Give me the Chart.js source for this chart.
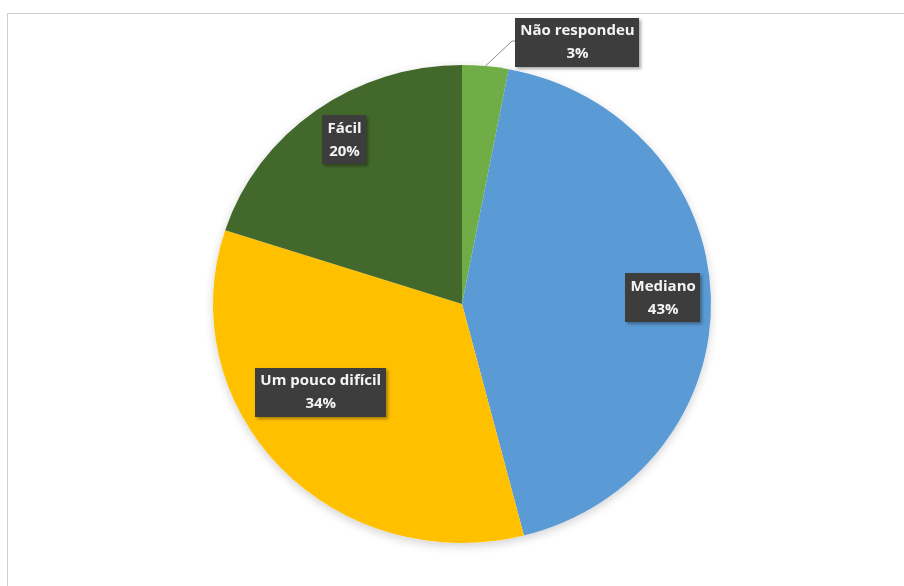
<!DOCTYPE html>
<html>
<head>
<meta charset="utf-8">
<script src="https://cdn.jsdelivr.net/npm/chart.js@4/dist/chart.umd.min.js"></script>
<style>
  html, body { margin: 0; padding: 0; background: #fff; overflow: hidden; }
  #wrap { position: relative; width: 904px; height: 586px; }
  #frame { position: absolute; left: 7px; top: 13px; width: 1000px; height: 1000px; border: 1px solid #cfcfcf; box-sizing: border-box; }
  canvas { position: absolute; left: 0; top: 0; }
</style>
</head>
<body>
<div id="wrap">
  <div id="frame"></div>
  <canvas id="c" width="904" height="586"></canvas>
</div>
<script>
const categories = ["Não respondeu", "Mediano", "Um pouco difícil", "Fácil"];
const values = [3, 43, 34, 20];
const percentLabels = ["3%", "43%", "34%", "20%"];
const sliceColors = ["#70AD47", "#5B9BD5", "#FFC000", "#43682B"];

const SX = 1.042; // horizontal stretch of the reference picture

const labelPlugin = {
  id: 'boxLabels',
  beforeDatasetsDraw(chart) {
    const ctx = chart.ctx;
    const a = chart.getDatasetMeta(0).data[0];
    ctx.save();
    ctx.translate(a.x, 0);
    ctx.scale(SX, 1);
    ctx.translate(-a.x, 0);
    ctx.save();
    ctx.shadowColor = 'rgba(0,0,0,0.18)';
    ctx.shadowBlur = 10;
    ctx.shadowOffsetY = 3;
    ctx.beginPath();
    ctx.arc(a.x, a.y, a.outerRadius, 0, Math.PI * 2);
    ctx.fillStyle = '#fff';
    ctx.fill();
    ctx.restore();
  },
  afterDatasetsDraw(chart) {
    const ctx = chart.ctx;
    ctx.restore();
    const meta = chart.getDatasetMeta(0);
    ctx.save();
    ctx.font = 'bold 15px "Open Sans", sans-serif';
    ctx.textAlign = 'center';
    ctx.textBaseline = 'middle';
    meta.data.forEach((arc, i) => {
      const mid = (arc.startAngle + arc.endAngle) / 2;
      const R = arc.outerRadius;
      let cx, cy;
      let leader = null;
      if (i === 0) {
        const ex = arc.x + Math.cos(mid) * R * SX, ey = arc.y + Math.sin(mid) * R;
        cx = ex + 92; cy = ey - 24;
        leader = [ex, ey];
      } else if (i === 2) {
        cx = arc.x + Math.cos(mid + 0.19) * R * 0.69 * SX + 4;
        cy = arc.y + Math.sin(mid + 0.19) * R * 0.69;
      } else if (i === 3) {
        cx = arc.x + Math.cos(mid) * R * 0.83 * SX + 4;
        cy = arc.y + Math.sin(mid) * R * 0.83 - 4;
      } else {
        cx = arc.x + Math.cos(mid) * R * 0.80 * SX + 2;
        cy = arc.y + Math.sin(mid) * R * 0.80;
      }
      const l1 = categories[i], l2 = percentLabels[i];
      const w = Math.max(ctx.measureText(l1).width, ctx.measureText(l2).width) + 10;
      const h = 49;
      const bx = Math.round(cx - w / 2), by = Math.round(cy - h / 2);
      if (leader) {
        ctx.beginPath();
        ctx.moveTo(leader[0], leader[1]);
        ctx.lineTo(bx - 3, cy - 1);
        ctx.lineTo(bx, cy - 1);
        ctx.strokeStyle = '#8c8c8c';
        ctx.lineWidth = 1;
        ctx.stroke();
      }
      ctx.save();
      ctx.shadowColor = 'rgba(0,0,0,0.35)';
      ctx.shadowBlur = 3;
      ctx.shadowOffsetX = 2;
      ctx.shadowOffsetY = 2;
      ctx.fillStyle = '#3d3d3d';
      ctx.fillRect(bx, by, Math.round(w), h);
      ctx.restore();
      ctx.fillStyle = '#f4f4f4';
      ctx.fillText(l1, cx, cy - 11);
      ctx.fillText(l2, cx, cy + 12);
    });
    ctx.restore();
  }
};

new Chart(document.getElementById('c'), {
  type: 'pie',
  data: {
    labels: categories,
    datasets: [{
      data: values,
      backgroundColor: sliceColors,
      borderWidth: 0
    }]
  },
  options: {
    responsive: false,
    animation: false,
    layout: { padding: { left: 223, right: 203, top: 65, bottom: 43 } },
    plugins: {
      legend: { display: false },
      tooltip: { enabled: false }
    }
  },
  plugins: [labelPlugin]
});
</script>
</body>
</html>
